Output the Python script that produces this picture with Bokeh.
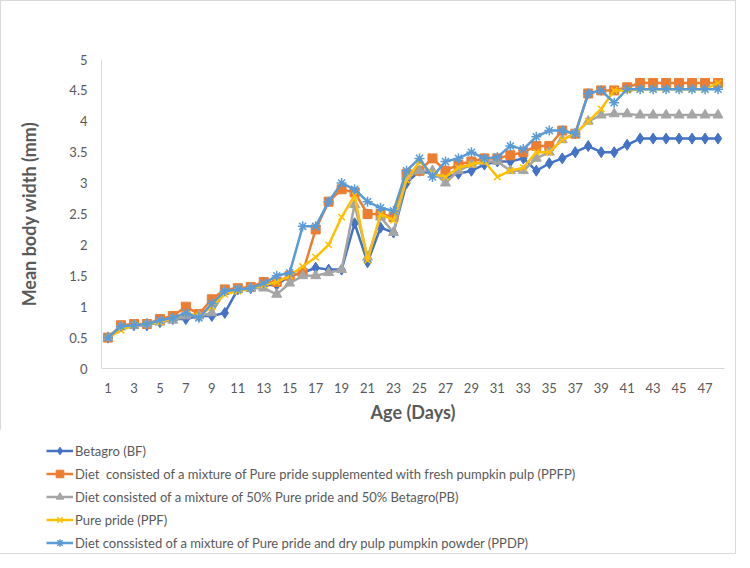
from bokeh.plotting import figure
from bokeh.layouts import column
from bokeh.models import Legend, LegendItem, FixedTicker, NumeralTickFormatter, Range1d
from bokeh.embed import file_html
from bokeh.resources import INLINE

days = list(range(1, 49))
x_ticks = list(range(1, 48, 2))
y_ticks = [0, 0.5, 1, 1.5, 2, 2.5, 3, 3.5, 4, 4.5, 5]

bf = [0.5, 0.68, 0.7, 0.7, 0.75, 0.8, 0.8, 0.85, 0.85, 0.9, 1.28, 1.3, 1.35, 1.35, 1.5, 1.55,
      1.63, 1.6, 1.6, 2.35, 1.72, 2.28, 2.2, 3.0, 3.2, 3.15, 3.1, 3.15, 3.2, 3.3, 3.35, 3.35,
      3.4, 3.2, 3.32, 3.4, 3.5, 3.6, 3.5, 3.5, 3.62, 3.72, 3.72, 3.72, 3.72, 3.72, 3.72, 3.72]
ppfp = [0.5, 0.7, 0.72, 0.72, 0.8, 0.85, 1.0, 0.88, 1.12, 1.28, 1.3, 1.32, 1.4, 1.4, 1.5, 1.55,
        2.25, 2.7, 2.9, 2.85, 2.5, 2.5, 2.45, 3.15, 3.2, 3.4, 3.2, 3.3, 3.35, 3.4, 3.4, 3.45,
        3.5, 3.6, 3.6, 3.85, 3.8, 4.45, 4.5, 4.5, 4.55, 4.62, 4.62, 4.62, 4.62, 4.62, 4.62, 4.62]
pb = [0.5, 0.68, 0.7, 0.72, 0.75, 0.78, 0.85, 0.85, 0.9, 1.25, 1.28, 1.3, 1.3, 1.2, 1.38, 1.5,
      1.5, 1.55, 1.6, 2.65, 1.8, 2.45, 2.2, 3.1, 3.2, 3.2, 3.0, 3.2, 3.3, 3.35, 3.35, 3.2,
      3.2, 3.4, 3.5, 3.7, 3.8, 4.0, 4.1, 4.12, 4.12, 4.1, 4.1, 4.1, 4.1, 4.1, 4.1, 4.1]
ppf = [0.5, 0.62, 0.7, 0.72, 0.75, 0.82, 0.9, 0.85, 1.0, 1.2, 1.25, 1.3, 1.35, 1.4, 1.5, 1.65,
       1.8, 2.0, 2.45, 2.8, 1.75, 2.5, 2.4, 3.05, 3.35, 3.15, 3.1, 3.25, 3.3, 3.35, 3.1, 3.2,
       3.25, 3.5, 3.5, 3.7, 3.8, 4.0, 4.2, 4.5, 4.5, 4.52, 4.52, 4.52, 4.52, 4.52, 4.52, 4.62]
ppdp = [0.5, 0.68, 0.7, 0.72, 0.78, 0.82, 0.9, 0.82, 1.05, 1.25, 1.28, 1.3, 1.38, 1.5, 1.55, 2.3,
        2.3, 2.7, 3.0, 2.9, 2.7, 2.6, 2.55, 3.2, 3.4, 3.1, 3.35, 3.4, 3.5, 3.4, 3.42, 3.6,
        3.55, 3.75, 3.85, 3.85, 3.8, 4.45, 4.5, 4.3, 4.52, 4.52, 4.52, 4.52, 4.52, 4.52, 4.52, 4.52]

labels = [
    "Betagro (BF)",
    "Diet  consisted of a mixture of Pure pride supplemented with fresh pumpkin pulp (PPFP)",
    "Diet consisted of a mixture of 50% Pure pride and 50% Betagro(PB)",
    "Pure pride (PPF)",
    "Diet conssisted of a mixture of Pure pride and dry pulp pumpkin powder (PPDP)",
]

GRAY = "#595959"
FONT = "Lato"

p = figure(width=734, height=428, output_backend="svg", toolbar_location=None,
           x_range=Range1d(0.5, 48.5), y_range=Range1d(0, 5),
           min_border_left=100, min_border_right=11, min_border_top=58, min_border_bottom=61)
p.outline_line_color = None
p.grid.visible = False

# legend-only figure (its renderers are hidden; only the legend is shown)
p2 = figure(width=734, height=124, output_backend="svg", toolbar_location=None,
            x_range=Range1d(0.5, 48.5), y_range=Range1d(0, 5),
            x_axis_location=None, y_axis_location=None,
            min_border_left=100, min_border_right=11, min_border_top=0, min_border_bottom=0)
p2.outline_line_color = None
p2.grid.visible = False
p2.styles = {"margin-left": "-55px"}

series = [
    (bf, "#4472C4", "diamond", 11),
    (ppfp, "#ED7D31", "square", 9),
    (pb, "#A5A5A5", "triangle", 10),
    (ppf, "#FFC000", "x", 9),
    (ppdp, "#5B9BD5", "asterisk", 10),
]
items = []
for (vals, col, mk, sz), lab in zip(series, labels):
    p.line(days, vals, line_color=col, line_width=2.5)
    k1 = p2.line(days, vals, line_color=col, line_width=2.5, visible=False)
    if mk in ("x", "asterisk"):
        p.scatter(days, vals, marker=mk, size=sz, line_color=col, line_width=1.5)
        k2 = p2.scatter(days, vals, marker=mk, size=sz, line_color=col, line_width=1.5, visible=False)
    else:
        p.scatter(days, vals, marker=mk, size=sz, fill_color=col, line_color=col)
        k2 = p2.scatter(days, vals, marker=mk, size=sz, fill_color=col, line_color=col, visible=False)
    items.append(LegendItem(label=lab, renderers=[k1, k2]))

legend = Legend(items=items, location=(0, 1), orientation="vertical",
                label_text_font=FONT, label_text_font_size="13px", label_text_color=GRAY,
                glyph_width=27, glyph_height=19, label_height=19, spacing=4,
                padding=0, margin=0, border_line_color=None, background_fill_alpha=0,
                label_standoff=2, click_policy="none")
p2.add_layout(legend, "center")

p.xaxis.ticker = FixedTicker(ticks=x_ticks)
p.yaxis.ticker = FixedTicker(ticks=y_ticks)
p.yaxis.formatter = NumeralTickFormatter(format="0.[0]")
for ax in (p.xaxis, p.yaxis):
    ax.axis_line_color = "#D9D9D9"
    ax.major_tick_line_color = None
    ax.minor_tick_line_color = None
    ax.major_label_text_color = GRAY
    ax.major_label_text_font = FONT
    ax.major_label_text_font_size = "13px"
    ax.axis_label_text_color = GRAY
    ax.axis_label_text_font = FONT
    ax.axis_label_text_font_style = "bold"
    ax.axis_label_text_font_size = "18px"
p.xaxis.axis_label = "Age (Days)"
p.yaxis.axis_label = "Mean body width (mm)"
p.xaxis.major_label_standoff = 8
p.xaxis.axis_label_standoff = 5
p.yaxis.major_label_standoff = 8
p.yaxis.axis_label_standoff = 26

layout = column(p, p2, spacing=0)
layout.styles = {"border": "1px solid #d9d9d9"}

open("out.html", "w").write(file_html(layout, INLINE))
